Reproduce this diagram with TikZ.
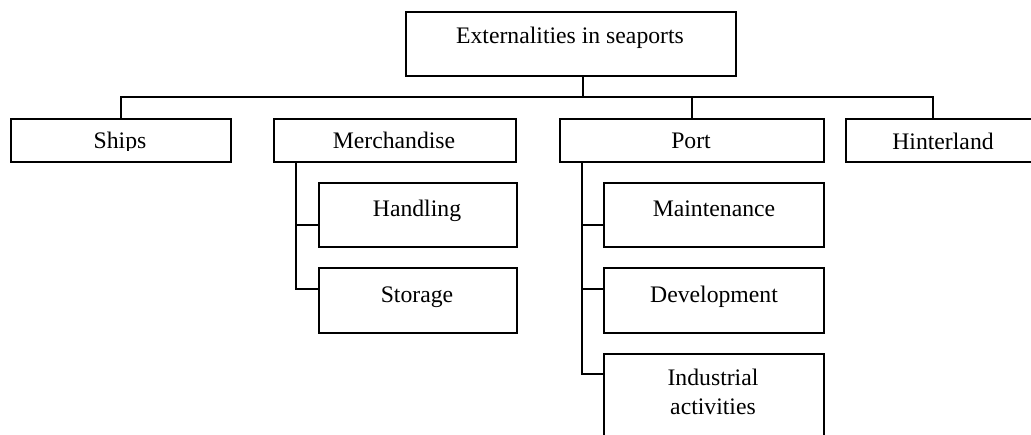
\documentclass[tikz,border=0pt]{standalone}
\usepackage{fontspec}
\setmainfont{Liberation Serif}
\begin{document}
\begin{tikzpicture}[x=1pt,y=-1pt,
  box/.style={draw, line width=1.6pt, rectangle, inner sep=0pt, anchor=north west},
  lbl/.style={anchor=base, inner sep=0pt, font=\fontsize{23.7}{28.4}\selectfont, align=center},
  conn/.style={line width=1.5pt}]
\useasboundingbox (0,0) rectangle (1031,434);
\clip (0,0) rectangle (1031,434);
% boxes
\node[box, minimum width=330pt, minimum height=64pt] (top) at (405,11) {};
\node[box, minimum width=220pt, minimum height=43pt] (ships) at (10,118) {};
\node[box, minimum width=242pt, minimum height=43pt] (merch) at (273,118) {};
\node[box, minimum width=264pt, minimum height=43pt] (port) at (559,118) {};
\node[box, minimum width=200pt, minimum height=43pt] (hint) at (845,118) {};
\node[box, minimum width=198pt, minimum height=64pt] (handl) at (318,182) {};
\node[box, minimum width=198pt, minimum height=65pt] (stor) at (318,267) {};
\node[box, minimum width=220pt, minimum height=64pt] (maint) at (603,182) {};
\node[box, minimum width=220pt, minimum height=65pt] (devel) at (603,267) {};
\node[box, minimum width=220pt, minimum height=100pt] (indus) at (603,353) {};
% texts
\node[lbl] (topT) at (570,43) {Externalities in seaports};
\begin{scope}
\clip (10,118) rectangle (230,150.5);
\node[lbl] (shipsT) at (120,148) {Ships};
\end{scope}
\node[lbl] (merchT) at (394,148) {Merchandise};
\node[lbl] (portT) at (691,148) {Port};
\node[lbl] (hintT) at (943,149) {Hinterland};
\node[lbl] (handlT) at (417,216) {Handling};
\node[lbl] (storT) at (417,302) {Storage};
\node[lbl] (maintT) at (714,216) {Maintenance};
\node[lbl] (develT) at (714,302) {Development};
\node[lbl] (indusT) at (713,414) {Industrial\\activities};
% connectors
\coordinate (bus) at (0,97);
\coordinate (hdrop) at (933,118);
\coordinate (mtrunk) at (296,161);
\coordinate (ptrunk) at (582,161);
\draw[conn] (ships.north) -- (ships.north |- bus) -- (hdrop |- bus) -- (hdrop);
\draw[conn] ([xshift=12pt]top.south) -- ([xshift=12pt]top.south |- bus);
\draw[conn] (port.north) -- (port.north |- bus);
\draw[conn] (mtrunk) |- ([yshift=-22pt]stor.north west);
\draw[conn] ([yshift=-43pt]handl.north west) -- ([yshift=-43pt]handl.north west -| mtrunk);
\draw[conn] (ptrunk) |- ([yshift=-21pt]indus.north west);
\draw[conn] ([yshift=-43pt]maint.north west) -- ([yshift=-43pt]maint.north west -| ptrunk);
\draw[conn] ([yshift=-22pt]devel.north west) -- ([yshift=-22pt]devel.north west -| ptrunk);
\end{tikzpicture}
\end{document}
